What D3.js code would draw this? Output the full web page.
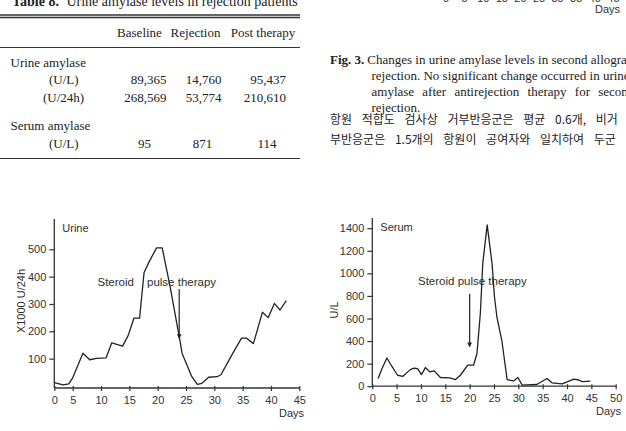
<!DOCTYPE html>
<html>
<head>
<meta charset="utf-8">
<script src="https://cdn.jsdelivr.net/npm/d3@7"></script>
<style>
    body { margin: 0; background: #fff; }
    svg { display: block; }
    .serif { font-family: "Liberation Serif", "DejaVu Serif", serif; fill: #222; }
    .kr { font-family: "Noto Sans CJK KR", sans-serif; fill: #222; }
    .lbl { font-family: "Liberation Sans", Arial, sans-serif; fill: #2e2e2e; }
    .axis path { display: none; }
    .axis line { stroke: #333; stroke-width: 1.2; }
    .axis text { font-family: "Liberation Sans", Arial, sans-serif; font-size: 11px; fill: #333; }
</style>
</head>
<body>
<div id="page"></div>
<script>
// ---- data ----
// Table 8
let tableColumns = ["Baseline", "Rejection", "Post therapy"]
let urineL = ["89,365", "14,760", "95,437"]
let urine24h = ["268,569", "53,774", "210,610"]
let serumL = ["95", "871", "114"]

// left plot: urine amylase (x1000 U/24h) by day
let urineDays = [1.75, 3.3, 4.3, 5.0, 6.8, 8.0, 9.2, 10.9, 11.9, 13.8, 14.8, 15.8, 16.8, 17.6, 18.5, 19.8, 20.8,
    22.2, 23.1, 23.9, 24.3, 25.2, 26.0, 27.0, 27.8, 29.0, 30.5, 31.2, 33.0, 34.8, 35.7, 36.9, 38.5, 39.5, 40.6, 41.6, 42.7]
let urineValues = [12, 4, 8, 30, 120, 96, 101, 103, 158, 146, 185, 248, 248, 415, 455, 505, 505,
    363, 260, 170, 120, 75, 35, 6, 10, 32, 34, 42, 110, 175, 175, 155, 270, 250, 302, 278, 312]

// right plot: serum amylase (U/L) by day
let serumDays = [1.2, 2.0, 3.0, 4.0, 5.2, 6.3, 7.8, 8.6, 9.3, 10.1, 10.9, 11.8, 12.7, 14.0, 15.9, 17.1, 18.1, 19.6, 20.8,
    21.5, 22.2, 22.7, 23.6, 24.6, 25.1, 25.6, 26.6, 27.7, 29.0, 29.9, 30.8, 33.8, 35.9, 36.9, 39.0, 41.4, 42.4, 43.1, 44.8]
let serumValues = [68, 157, 250, 177, 97, 88, 147, 160, 155, 103, 165, 127, 136, 77, 74, 59, 97, 186, 186,
    290, 649, 1091, 1430, 1086, 790, 613, 407, 58, 47, 77, 9, 15, 68, 30, 20, 62, 55, 40, 45]

let urineYTicks = [100, 200, 300, 400, 500]
let urineXTicks = [1.75, 5, 10, 15, 20, 25, 30, 35, 40, 45]   // first one printed as "0" at the axis corner
let serumYTicks = [0, 200, 400, 600, 800, 1000, 1200, 1400]
let serumXTicks = [0, 5, 10, 15, 20, 25, 30, 35, 40, 45, 50]

// steroid pulse therapy arrows [day, from, to]
let urineArrow = [23.8, 355, 175]
let serumArrow = [20, 819, 352]

let captionLines = [
    "rejection. No significant change occurred in urine",
    "amylase after antirejection therapy for second",
    "rejection."
]
let koreanLines = [
    "항원 적합도 검사상 거부반응군은 평균 0.6개, 비거",
    "부반응군은 1.5개의 항원이 공여자와 일치하여 두군"
]

const W = 626, H = 431
let svg = d3.select("#page").append("svg")
    .attr("width", W)
    .attr("height", H)

svg.append("defs").append("marker")
    .attr("id", "head")
    .attr("viewBox", "0 0 6 6")
    .attr("refX", 5).attr("refY", 3)
    .attr("markerWidth", 4).attr("markerHeight", 4)
    .attr("orient", "auto")
    .append("path").attr("d", "M0,0L6,3L0,6Z").attr("fill", "#222")

// ---- table (top left) ----
let tbl = svg.append("g")
let title = tbl.append("text").attr("class", "serif").attr("x", 12).attr("y", 6).style("font-size", "14px")
title.append("tspan").style("font-weight", "bold").text("Table 8. ")
title.append("tspan").attr("dx", 4).text("Urine amylase levels in rejection patients")

tbl.selectAll(".rule").data([15, 17.5, 47.5, 158.5]).enter().append("line")
    .attr("x1", 0).attr("x2", 300)
    .attr("y1", d => d).attr("y2", d => d)
    .attr("stroke", "#333").attr("stroke-width", (d, i) => i < 2 ? 1.4 : 1.1)

let headX = [139.5, 195.5, 263]
tbl.selectAll(".head").data(tableColumns).enter().append("text")
    .attr("class", "serif").style("font-size", "13px")
    .attr("text-anchor", "middle")
    .attr("x", (d, i) => headX[i]).attr("y", 37)
    .text(d => d)

let rowLabel = (t, x, y) => tbl.append("text").attr("class", "serif").style("font-size", "13px")
    .attr("x", x).attr("y", y).text(t)
rowLabel("Urine amylase", 10.5, 67)
rowLabel("(U/L)", 49, 84)
rowLabel("(U/24h)", 43, 101.5)
rowLabel("Serum amylase", 10.5, 130)
rowLabel("(U/L)", 49, 147.5)

let endX = [166.5, 221.5, 286]
let midX = [144.5, 202.5, 267]
let valueRow = (vals, y, anchor, xs) => tbl.selectAll(null).data(vals).enter().append("text")
    .attr("class", "serif").style("font-size", "13px")
    .attr("text-anchor", anchor)
    .attr("x", (d, i) => xs[i]).attr("y", y)
    .text(d => d)
valueRow(urineL, 84, "end", endX)
valueRow(urine24h, 101.5, "end", endX)
valueRow(serumL, 147.5, "middle", midX)

// ---- caption + korean text (top right) ----
svg.append("text").attr("class", "lbl").style("font-size", "11px")
    .attr("text-anchor", "end").attr("x", 620).attr("y", 13).text("Days")
// bottoms of the cut off axis labels from the plot above
svg.selectAll(".cut").data(d3.range(0, 50, 5)).enter().append("text")
    .attr("class", "lbl").style("font-size", "11px").attr("text-anchor", "middle")
    .attr("x", (d, i) => 446 + i * 18.6).attr("y", 1.5).text(d => d)

let cap = svg.append("text").attr("class", "serif").style("font-size", "13px").attr("x", 330).attr("y", 63.5)
cap.append("tspan").style("font-weight", "bold").text("Fig. 3.")
cap.append("tspan").attr("dx", 3).text("Changes in urine amylase levels in second allograft")
svg.selectAll(".capline").data(captionLines).enter().append("text")
    .attr("class", "serif").style("font-size", "13px")
    .attr("x", 371.5).attr("y", (d, i) => 80 + i * 16)
    .style("word-spacing", (d, i) => i == 1 ? "5px" : "0px")
    .text(d => d)

svg.selectAll(".kline").data(koreanLines).enter().append("text")
    .attr("class", "kr").style("font-size", "12px")
    .attr("x", 330).attr("y", (d, i) => 124 + i * 20)
    .style("word-spacing", "7px")
    .text(d => d)

// ---- line plots ----
class LinePlot {
    constructor(cfg) {
        this.cfg = cfg
        this.initVis()
    }

    initVis() {
        let vis = this, c = vis.cfg
        vis.g = svg.append("g")

        vis.x = d3.scaleLinear().domain(c.xDomain).range(c.xRange)
        vis.y = d3.scaleLinear().domain(c.yDomain).range(c.yRange)

        // axis lines (the scan's axes run a bit past the data range)
        vis.g.append("line").attr("x1", c.xRange[0]).attr("x2", c.xRange[0])
            .attr("y1", c.axisY).attr("y2", c.topY).attr("stroke", "#333").attr("stroke-width", 1.3)
        vis.g.append("line").attr("x1", c.xRange[0]).attr("x2", c.xRange[1] + 0.5)
            .attr("y1", c.axisY).attr("y2", c.axisY).attr("stroke", "#333").attr("stroke-width", 1.3)

        let xAxis = d3.axisBottom(vis.x).tickValues(c.xTicks).tickSize(4).tickPadding(4)
            .tickFormat(d => d < 2 ? "0" : d)
        vis.g.append("g").attr("class", "axis")
            .attr("transform", `translate(0,${c.axisY})`)
            .call(xAxis)
            .selectAll("line").attr("y1", -2).attr("y2", 3)

        let yAxis = d3.axisLeft(vis.y).tickValues(c.yTicks).tickSize(5).tickPadding(3)
            .tickFormat(d3.format("d"))
        vis.g.append("g").attr("class", "axis")
            .attr("transform", `translate(${c.xRange[0]},0)`)
            .call(yAxis)

        vis.g.append("text").attr("class", "lbl").style("font-size", "11px")
            .attr("text-anchor", "end").attr("x", c.daysX).attr("y", c.axisY + 29).text("Days")

        vis.g.append("text").attr("class", "lbl").style("font-size", "11px")
            .attr("text-anchor", "middle")
            .attr("transform", `translate(${c.yLabelX},${c.yLabelY}) rotate(-90)`)
            .text(c.yLabel)

        vis.g.append("text").attr("class", "lbl").style("font-size", "11px")
            .attr("x", c.xRange[0] + 8).attr("y", c.topY + 13).text(c.title)

        vis.wrangleData()
    }

    wrangleData() {
        let vis = this
        vis.displayData = vis.cfg.days.map((d, i) => ({ day: d, value: vis.cfg.values[i] }))
        vis.updateVis()
    }

    updateVis() {
        let vis = this, c = vis.cfg

        let line = d3.line().x(d => vis.x(d.day)).y(d => vis.y(d.value))
        vis.g.append("path").datum(vis.displayData)
            .attr("d", line)
            .attr("fill", "none")
            .attr("stroke", "#222")
            .attr("stroke-width", 1.3)
            .attr("stroke-linejoin", "round")

        // therapy arrow + note
        vis.g.append("line")
            .attr("x1", vis.x(c.arrow[0])).attr("x2", vis.x(c.arrow[0]))
            .attr("y1", vis.y(c.arrow[1])).attr("y2", vis.y(c.arrow[2]))
            .attr("stroke", "#222").attr("stroke-width", 1.2)
            .attr("marker-end", "url(#head)")

        c.notes.forEach(n => {
            vis.g.append("text").attr("class", "lbl").style("font-size", "11.5px")
                .attr("x", n[0]).attr("y", n[1]).text(n[2])
        })
    }
}

new LinePlot({
    title: "Urine", yLabel: "X1000 U/24h",
    days: urineDays, values: urineValues,
    xDomain: [1.75, 45], xRange: [54.3, 299.3],
    yDomain: [0, 500], yRange: [386, 249.3],
    xTicks: urineXTicks, yTicks: urineYTicks,
    axisY: 388, topY: 219, daysX: 304,
    yLabelX: 25, yLabelY: 301,
    arrow: urineArrow,
    notes: [[97.5, 286, "Steroid"], [147, 286, "pulse therapy"]]
})

new LinePlot({
    title: "Serum", yLabel: "U/L",
    days: serumDays, values: serumValues,
    xDomain: [0, 50], xRange: [372.3, 615.7],
    yDomain: [0, 1400], yRange: [386.2, 228.2],
    xTicks: serumXTicks, yTicks: serumYTicks,
    axisY: 386.2, topY: 218, daysX: 621,
    yLabelX: 338, yLabelY: 310,
    arrow: serumArrow,
    notes: [[418, 284.5, "Steroid pulse therapy"]]
})
</script>
</body>
</html>
